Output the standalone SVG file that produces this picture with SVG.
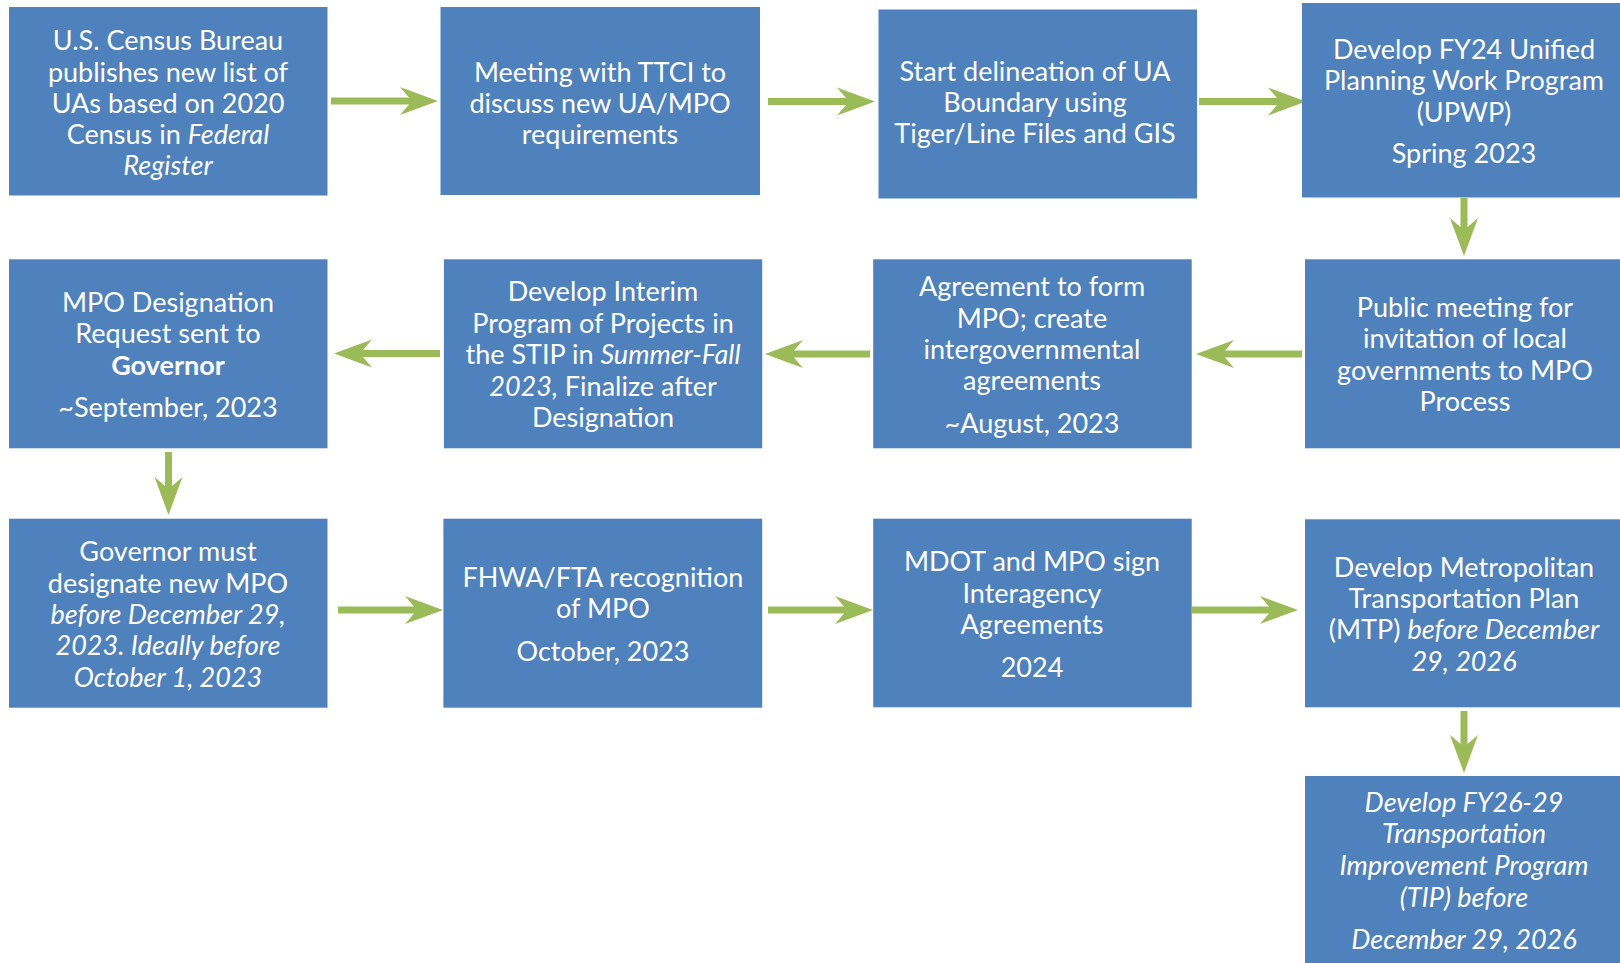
<svg xmlns="http://www.w3.org/2000/svg" width="1620" height="963" viewBox="0 0 1620 963">
<style>
.box{fill:#4F81BD}
.t{font-family:Lato,"Liberation Sans",sans-serif;font-size:27px;fill:#fff;text-anchor:middle;transform:translateY(1.5px)}
.i{font-style:italic}
.b{font-weight:bold}
.c{stroke:#9BBB59;stroke-width:7;fill:none;marker-end:url(#ah)}
</style>
<defs>
<marker id="ah" markerUnits="userSpaceOnUse" markerWidth="38" markerHeight="28" refX="12" refY="14" orient="auto" overflow="visible">
<path d="M0,0 L38,14 L0,28 L12,14 Z" fill="#9BBB59"/>
</marker>
</defs>
<rect width="1620" height="963" fill="#fff"/>
<g id="connectors">
<line class="c" x1="331" y1="101" x2="412" y2="101"/>
<line class="c" x1="768" y1="101.5" x2="849" y2="101.5"/>
<line class="c" x1="1199" y1="101.5" x2="1280" y2="101.5"/>
<line class="c" x1="1464" y1="198" x2="1464" y2="230"/>
<line class="c" x1="1302" y1="354" x2="1222" y2="354"/>
<line class="c" x1="870" y1="354" x2="791" y2="354"/>
<line class="c" x1="440" y1="353.5" x2="360" y2="353.5"/>
<line class="c" x1="168.5" y1="452" x2="168.5" y2="489"/>
<line class="c" x1="338" y1="610" x2="417" y2="610"/>
<line class="c" x1="768" y1="610" x2="847" y2="610"/>
<line class="c" x1="1192" y1="610" x2="1272" y2="610"/>
<line class="c" x1="1464" y1="711" x2="1464" y2="747"/>
</g>
<g id="n1">
<rect class="box" x="9" y="7" width="318.5" height="188.5"/>
<text class="t"><tspan x="168" y="48.7">U.S. Census Bureau</tspan><tspan x="168" y="80">publishes new list of</tspan><tspan x="168" y="111">UAs based on 2020</tspan><tspan x="168" y="142.2">Census in <tspan class="i">Federal</tspan></tspan><tspan x="168" y="173.4" class="i">Register</tspan></text>
</g>
<g id="n2">
<rect class="box" x="440.5" y="7" width="319.5" height="188"/>
<text class="t"><tspan x="600" y="80">Meeting with TTCI to</tspan><tspan x="600" y="111">discuss new UA/MPO</tspan><tspan x="600" y="142">requirements</tspan></text>
</g>
<g id="n3">
<rect class="box" x="878.5" y="9.5" width="318.5" height="189"/>
<text class="t"><tspan x="1035" y="79">Start delineation of UA</tspan><tspan x="1035" y="110">Boundary using</tspan><tspan x="1035" y="141.5">Tiger/Line Files and GIS</tspan></text>
</g>
<g id="n4">
<rect class="box" x="1302" y="3" width="318.5" height="194.5"/>
<text class="t"><tspan x="1464" y="57.7">Develop FY24 Unified</tspan><tspan x="1464" y="88.5">Planning Work Program</tspan><tspan x="1464" y="120">(UPWP)</tspan><tspan x="1464" y="161.7">Spring 2023</tspan></text>
</g>
<g id="n5">
<rect class="box" x="1305" y="259.3" width="315.5" height="189"/>
<text class="t"><tspan x="1465" y="315">Public meeting for</tspan><tspan x="1465" y="346.7">invitation of local</tspan><tspan x="1465" y="378.3">governments to MPO</tspan><tspan x="1465" y="409.5">Process</tspan></text>
</g>
<g id="n6">
<rect class="box" x="873.2" y="259.3" width="318.5" height="189"/>
<text class="t"><tspan x="1032" y="294">Agreement to form</tspan><tspan x="1032" y="326">MPO; create</tspan><tspan x="1032" y="357.3">intergovernmental</tspan><tspan x="1032" y="388.5">agreements</tspan><tspan x="1032" y="431">~August, 2023</tspan></text>
</g>
<g id="n7">
<rect class="box" x="443.9" y="259.3" width="318.3" height="189"/>
<text class="t"><tspan x="603" y="299.3">Develop Interim</tspan><tspan x="603" y="331">Program of Projects in</tspan><tspan x="603" y="362.7">the STIP in <tspan class="i">Summer-Fall</tspan></tspan><tspan x="603" y="394"><tspan class="i">2023,</tspan> Finalize after</tspan><tspan x="603" y="425.7">Designation</tspan></text>
</g>
<g id="n8">
<rect class="box" x="9" y="259.3" width="318.5" height="189"/>
<text class="t"><tspan x="168" y="310.5">MPO Designation</tspan><tspan x="168" y="341.7">Request sent to</tspan><tspan x="168" y="373.3" class="b">Governor</tspan><tspan x="168" y="415">~September, 2023</tspan></text>
</g>
<g id="n9">
<rect class="box" x="9" y="518.7" width="318.5" height="189"/>
<text class="t"><tspan x="168" y="559.8">Governor must</tspan><tspan x="168" y="591">designate new MPO</tspan><tspan x="168" y="622.2" class="i">before December 29,</tspan><tspan x="168" y="653.8" class="i">2023. Ideally before</tspan><tspan x="168" y="685.5" class="i">October 1, 2023</tspan></text>
</g>
<g id="n10">
<rect class="box" x="443.4" y="518.7" width="318.8" height="189"/>
<text class="t"><tspan x="603" y="585.7">FHWA/FTA recognition</tspan><tspan x="603" y="616.7">of MPO</tspan><tspan x="603" y="659">October, 2023</tspan></text>
</g>
<g id="n11">
<rect class="box" x="873.2" y="518.7" width="318.5" height="188.6"/>
<text class="t"><tspan x="1032" y="569.3">MDOT and MPO sign</tspan><tspan x="1032" y="601">Interagency</tspan><tspan x="1032" y="632.7">Agreements</tspan><tspan x="1032" y="675">2024</tspan></text>
</g>
<g id="n12">
<rect class="box" x="1305" y="519.3" width="315.5" height="188"/>
<text class="t"><tspan x="1464" y="575">Develop Metropolitan</tspan><tspan x="1464" y="606">Transportation Plan</tspan><tspan x="1464" y="637.7">(MTP) <tspan class="i">before December</tspan></tspan><tspan x="1464" y="669.3" class="i">29, 2026</tspan></text>
</g>
<g id="n13">
<rect class="box" x="1305" y="776" width="315.5" height="190"/>
<text class="t i"><tspan x="1464" y="810">Develop FY26-29</tspan><tspan x="1464" y="841.7">Transportation</tspan><tspan x="1464" y="873.3">Improvement Program</tspan><tspan x="1464" y="905">(TIP) before</tspan><tspan x="1464" y="947.3">December 29, 2026</tspan></text>
</g>
</svg>
